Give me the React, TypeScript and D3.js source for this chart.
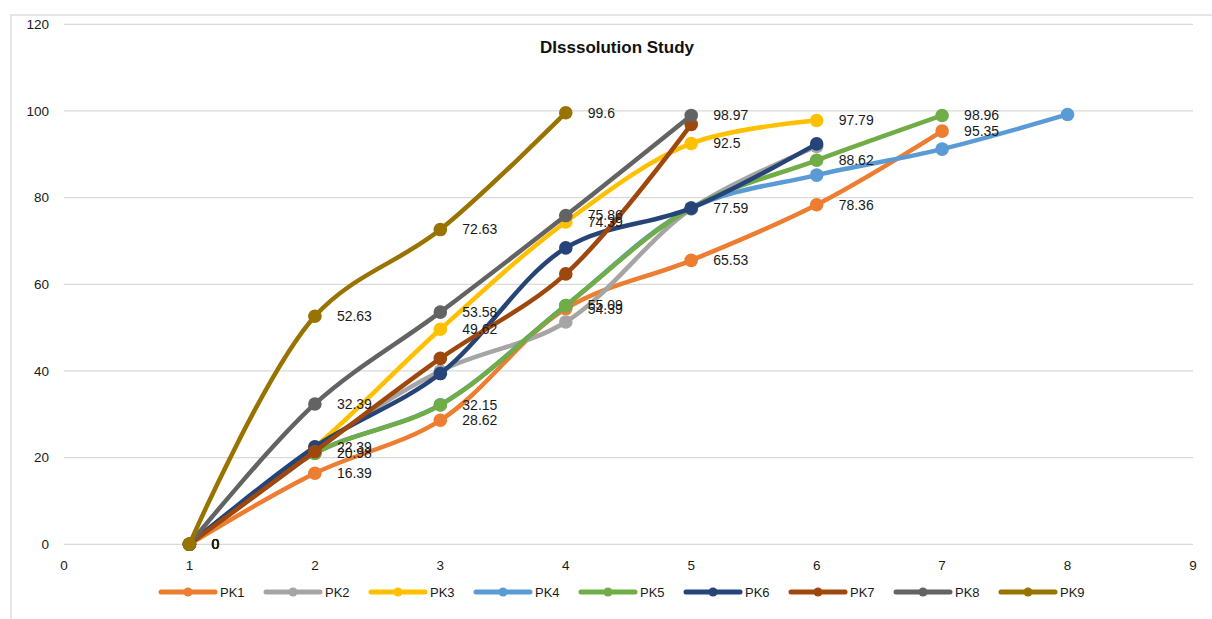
import React from "react";
import * as d3 from "d3";

const title = "DIsssolution Study";
const seriesNames = ["PK1", "PK2", "PK3", "PK4", "PK5", "PK6", "PK7", "PK8", "PK9"];
const seriesColors = ["#ED7D31", "#A5A5A5", "#FFC000", "#5B9BD5", "#70AD47", "#264478", "#9E480E", "#636363", "#997300"];
const PK1 = [0, 16.39, 28.62, 54.39, 65.53, 78.36, 95.35];
const PK2 = [0, 22.0, 40.0, 51.3, 77.4, 91.8];
const PK3 = [0, 22.39, 49.62, 74.39, 92.5, 97.79];
const PK4 = [0, 21.0, 32.2, 55.09, 77.5, 85.2, 91.2, 99.2];
const PK5 = [0, 20.98, 32.15, 55.09, 77.59, 88.62, 98.96];
const PK6 = [0, 22.5, 39.4, 68.4, 77.59, 92.4];
const PK7 = [0, 21.4, 42.9, 62.4, 96.9];
const PK8 = [0, 32.39, 53.58, 75.86, 98.97];
const PK9 = [0, 52.63, 72.63, 99.6];
const seriesValues = [PK1, PK2, PK3, PK4, PK5, PK6, PK7, PK8, PK9];
const labeledSeries = ["PK1", "PK3", "PK5", "PK8", "PK9"];
const xTicks = [0, 1, 2, 3, 4, 5, 6, 7, 8, 9];
const yTicks = [0, 20, 40, 60, 80, 100, 120];

const W = 1212;
const H = 619;
const FONT = "'Liberation Sans', Arial, sans-serif";

export default function App() {
  const x = d3.scaleLinear().domain([0, 9]).range([64, 1193]);
  const y = d3.scaleLinear().domain([0, 120]).range([544.3, 24.3]);
  const line = d3
    .line<[number, number]>()
    .x((d) => x(d[0]))
    .y((d) => y(d[1]))
    .curve(d3.curveCatmullRom.alpha(0.5));

  const series = seriesNames.map((name, i) => ({
    name,
    color: seriesColors[i],
    pts: seriesValues[i].map((v, j) => [j + 1, v] as [number, number]),
    labeled: labeledSeries.includes(name),
  }));

  const legendX = d3.scaleLinear().domain([0, 1]).range([161, 266]);

  return (
    <div style={{ position: "fixed", left: 0, top: 0, width: W, height: H, background: "#fff" }}>
      <svg width={W} height={H} style={{ display: "block" }}>
        <rect x={11} y={15} width={W + 10} height={H + 10} fill="#fff" stroke="#D9D9D9" strokeWidth={1.3} />
        {yTicks.map((t) => (
          <g key={"y" + t}>
            <line x1={x(0)} x2={x(9)} y1={y(t)} y2={y(t)} stroke="#D9D9D9" strokeWidth={1.3} />
            <text x={49} y={y(t)} dy="0.35em" textAnchor="end" fontFamily={FONT} fontSize={13.5} fill="#1a1a1a">
              {t}
            </text>
          </g>
        ))}
        {xTicks.map((t) => (
          <text key={"x" + t} x={x(t)} y={565.7} dy="0.35em" textAnchor="middle" fontFamily={FONT} fontSize={13.5} fill="#1a1a1a">
            {t}
          </text>
        ))}
        <text x={617} y={53} textAnchor="middle" fontFamily={FONT} fontWeight="bold" fontSize={17} fill="#111">
          {title}
        </text>
        {series.map((s) => (
          <g key={s.name}>
            <path d={line(s.pts) || ""} fill="none" stroke={s.color} strokeWidth={4.5} strokeLinecap="round" strokeLinejoin="round" />
            {s.pts.map((p, j) => (
              <circle key={j} cx={x(p[0])} cy={y(p[1])} r={6.8} fill={s.color} />
            ))}
          </g>
        ))}
        {series
          .filter((s) => s.labeled)
          .map((s) =>
            s.pts.map((p, j) => (
              <text
                key={s.name + "l" + j}
                x={x(p[0]) + 22}
                y={y(p[1])}
                dy="0.35em"
                fontFamily={FONT}
                fontSize={14}
                fill="#1a1a1a"
              >
                {String(p[1])}
              </text>
            ))
          )}
        {series.map((s, i) => {
          const lx = legendX(i);
          return (
            <g key={"lg" + s.name}>
              <line x1={lx} x2={lx + 54} y1={592} y2={592} stroke={s.color} strokeWidth={5} strokeLinecap="round" />
              <circle cx={lx + 27} cy={592} r={4.5} fill={s.color} />
              <text x={lx + 59} y={592} dy="0.35em" fontFamily={FONT} fontSize={13} fill="#1a1a1a">
                {s.name}
              </text>
            </g>
          );
        })}
      </svg>
    </div>
  );
}
